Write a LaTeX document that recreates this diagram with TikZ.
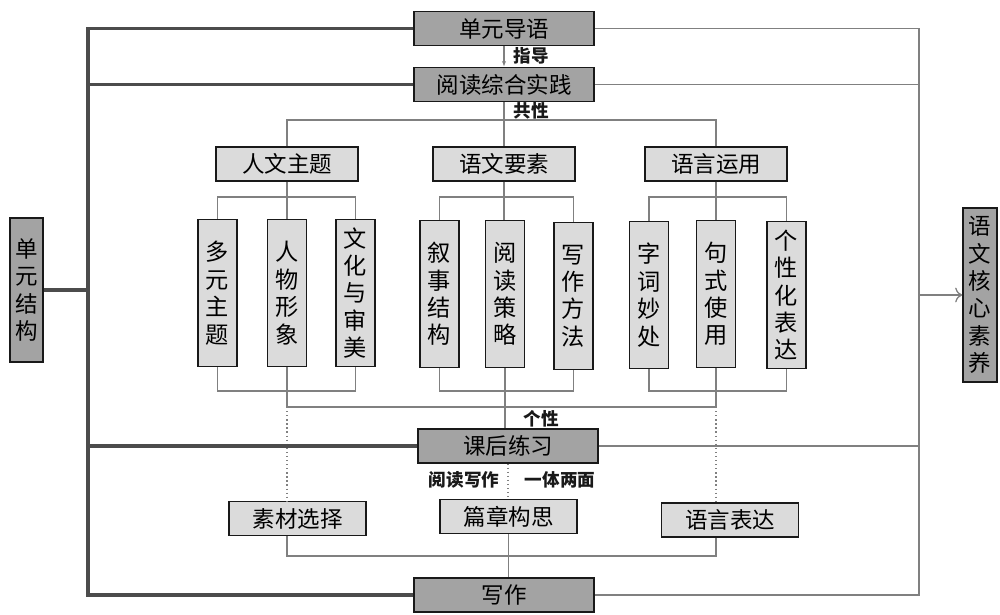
\documentclass[tikz,border=0pt]{standalone}
\usepackage{fontspec}
\usepackage{tikz}
\usetikzlibrary{arrows.meta}
\newfontfamily\cjk{Noto Sans CJK SC}

\begin{document}
\begin{tikzpicture}[x=0.025cm, y=-0.025cm,
	box/.style={draw=black!90, line width=1.1pt, inner sep=1pt, align=center, font=\cjk\fontsize{16}{19.5}\selectfont},
	dark/.style={box, fill=black!36},
	light/.style={box, fill=black!14},
	wide/.style={minimum width=4.5cm, minimum height=0.84cm},
	mid/.style={minimum width=3.55cm, minimum height=0.84cm},
	tall/.style={light, minimum width=0.975cm, minimum height=3.675cm, font=\cjk\fontsize{16.5}{19.5}\selectfont},
	lab/.style={font=\cjk\bfseries\fontsize{12.5}{12.5}\selectfont, text=black!90, inner sep=0pt},
	bus/.style={line width=2.6pt, draw=black!70},
	link/.style={line width=0.9pt, draw=black!50},
	dots/.style={link, dotted}]
	\useasboundingbox (0,0) rectangle (1000,614);

	\node[dark, wide] (daoyu) at (504,28.5) {单元导语};
	\node[dark, wide] (yuedu) at (504,84.5) {阅读综合实践};
	\node[light, mid] (renwen) at (287,164) {人文主题};
	\node[light, mid] (yaosu) at (504,164) {语文要素};
	\node[light, mid] (yunyong) at (716,164) {语言运用};

	\node[tall] (a1) at (217.5,293) {多\\元\\主\\题};
	\node[tall] (a2) at (287,293) {人\\物\\形\\象};
	\node[tall] (a3) at (355.5,293) {文\\化\\与\\审\\美};
	\node[tall] (b1) at (439.5,294) {叙\\事\\结\\构};
	\node[tall] (b2) at (505,294) {阅\\读\\策\\略};
	\node[tall] (b3) at (573.5,296) {写\\作\\方\\法};
	\node[tall] (c1) at (649,295) {字\\词\\妙\\处};
	\node[tall] (c2) at (716,294) {句\\式\\使\\用};
	\node[tall] (c3) at (786.5,295) {个\\性\\化\\表\\达};

	\node[dark, wide] (kehou) at (508,446) {课后练习};
	\node[light, minimum width=3.425cm, minimum height=0.84cm] (sucai) at (297.5,518.5) {素材选择};
	\node[light, minimum width=3.425cm, minimum height=0.84cm] (pianzhang) at (508.5,516.5) {篇章构思};
	\node[light, minimum width=3.425cm, minimum height=0.84cm] (biaoda) at (730,520) {语言表达};
	\node[dark, wide] (xiezuo) at (504,595) {写作};

	\node[dark, minimum width=0.825cm, minimum height=3.6cm] (jiegou) at (26.5,290) {单\\元\\结\\构};
	\node[dark, minimum width=0.85cm, minimum height=4.35cm] (suyang) at (980,295) {语\\文\\核\\心\\素\\养};

	\node[lab] (zhidao) at (531,56) {指导};
	\node[lab] (gongxing) at (531,111) {共性};
	\node[lab] (gexing) at (541,419) {个性};
	\node[lab] (duxie) at (464,480) {阅读写作};
	\node[lab] (liangmian) at (560,480) {一体两面};

	\coordinate (rowA) at (0,120);
	\coordinate (rowB) at (0,197);
	\coordinate (rowC) at (0,391);
	\coordinate (rowD) at (0,407);
	\coordinate (rowE) at (0,556);
	\coordinate (lbus) at (88,0);
	\coordinate (rbus) at (919,0);

	\draw[link, -{Latex[length=4pt,width=3pt]}] (daoyu.south) -- (yuedu.north);
	\draw[link] (yuedu.south) -- (yaosu.north);
	\draw[link] (renwen.north) |- (yunyong.north |- rowA) -- (yunyong.north);

	\draw[link] (renwen.south) -- (a2.north);
	\draw[link] (a1.north) |- (a3.north |- rowB) -- (a3.north);
	\draw[link] (a1.south) |- (a3.south |- rowC) -- (a3.south);
	\draw[link] (yaosu.south) -- (yaosu.south |- b2.north);
	\draw[link] (b1.north) |- (b3.north |- rowB) -- (b3.north);
	\draw[link] (b1.south) |- (b3.south |- rowC) -- (b3.south);
	\draw[link] (yunyong.south) -- (c2.north);
	\draw[link] (c1.north) |- (c3.north |- rowB) -- (c3.north);
	\draw[link] (c1.south) |- (c3.south |- rowC) -- (c3.south);

	\draw[link] (a2.south) -- (a2.south |- rowD) -- (c2.south |- rowD) -- (c2.south);
	\draw[link] (b2.south) -- (b2.south |- kehou.north);
	\draw[dots] (a2.south |- rowD) -- (a2.south |- sucai.north);
	\draw[dots] (c2.south |- rowD) -- (c2.south |- biaoda.north);
	\draw[dots] (kehou.south) -- (kehou.south |- pianzhang.north);
	\draw[link] (a2.south |- sucai.south) -- (a2.south |- rowE) -- (c2.south |- rowE) -- (c2.south |- biaoda.south);
	\draw[link] (pianzhang.south) -- (pianzhang.south |- xiezuo.north);

	\draw[bus] (daoyu.west) -- (daoyu.west -| lbus) -- (xiezuo.west -| lbus) -- (xiezuo.west);
	\draw[bus] (yuedu.west) -- (yuedu.west -| lbus);
	\draw[bus] (kehou.west) -- (kehou.west -| lbus);
	\draw[bus] (jiegou.east) -- (jiegou.east -| lbus);

	\draw[link] (daoyu.east) -- (daoyu.east -| rbus) -- (xiezuo.east -| rbus) -- (xiezuo.east);
	\draw[link] (yuedu.east) -- (yuedu.east -| rbus);
	\draw[link] (kehou.east) -- (kehou.east -| rbus);
	\draw[link, -{To[length=5pt]}] (suyang.west -| rbus) -- (suyang.west);
\end{tikzpicture}
\end{document}
